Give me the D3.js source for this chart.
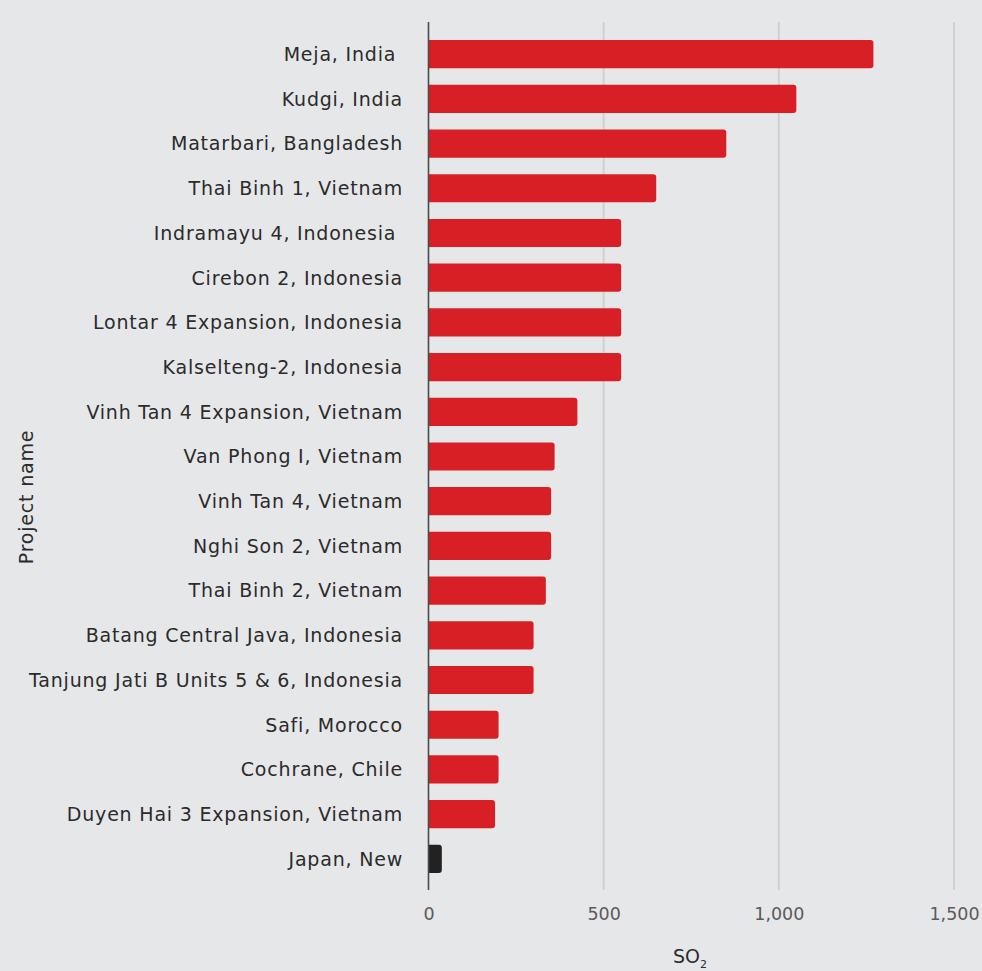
<!DOCTYPE html>
<html><head><meta charset="utf-8">
<script src="https://cdn.jsdelivr.net/npm/d3@7"></script>
<style>
html,body{margin:0;padding:0;background:#e6e7e9;}
svg{display:block;font-family:"DejaVu Sans","Noto Sans",sans-serif;}
</style></head>
<body>
<script>
const projects = [
  "Meja, India ", "Kudgi, India", "Matarbari, Bangladesh", "Thai Binh 1, Vietnam",
  "Indramayu 4, Indonesia ", "Cirebon 2, Indonesia", "Lontar 4 Expansion, Indonesia",
  "Kalselteng-2, Indonesia", "Vinh Tan 4 Expansion, Vietnam", "Van Phong I, Vietnam",
  "Vinh Tan 4, Vietnam", "Nghi Son 2, Vietnam", "Thai Binh 2, Vietnam",
  "Batang Central Java, Indonesia", "Tanjung Jati B Units 5 & 6, Indonesia",
  "Safi, Morocco", "Cochrane, Chile", "Duyen Hai 3 Expansion, Vietnam", "Japan, New"
];
const so2 = [1270, 1050, 850, 650, 550, 550, 550, 550, 425, 360, 350, 350, 335, 300, 300, 200, 200, 190, 38];
const highlight = ["Japan, New"];
const xTicks = [0, 500, 1000, 1500];

const W = 982, H = 971;
const svg = d3.select("body").append("svg").attr("width", W).attr("height", H);
svg.append("rect").attr("width", W).attr("height", H).attr("fill", "#e6e7e9");

const x = d3.scaleLinear().domain([0, 1500]).range([428.5, 954]);
const y = d3.scaleBand().domain(projects).range([24, 889]).paddingInner(0.37).paddingOuter(0.36);

// gridlines
svg.append("g").selectAll("line").data(xTicks.filter(d => d > 0)).join("line")
  .attr("x1", d => x(d)).attr("x2", d => x(d))
  .attr("y1", 22).attr("y2", 890)
  .attr("stroke", "#cfd0d2").attr("stroke-width", 2);

// bars with rounded right corners
function barPath(x0, x1, y0, h, r) {
  r = Math.min(r, (x1 - x0) / 2, h / 2);
  return `M${x0},${y0}H${x1 - r}Q${x1},${y0} ${x1},${y0 + r}V${y0 + h - r}Q${x1},${y0 + h} ${x1 - r},${y0 + h}H${x0}Z`;
}
svg.append("g").selectAll("path").data(projects).join("path")
  .attr("d", (d, i) => barPath(x(0), x(so2[i]), y(d), y.bandwidth(), 3))
  .attr("fill", d => highlight.includes(d) ? "#222222" : "#d91f26");

// y axis line
svg.append("line").attr("x1", x(0)).attr("x2", x(0)).attr("y1", 22).attr("y2", 890)
  .attr("stroke", "#4a4a4a").attr("stroke-width", 1.6);

// category labels
svg.append("g").selectAll("text").data(projects).join("text")
  .attr("x", 403)
  .attr("y", d => y(d) + y.bandwidth() / 2)
  .attr("dy", "0.36em")
  .attr("text-anchor", "end")
  .attr("font-size", 19)
  .attr("letter-spacing", 0.8)
  .attr("fill", "#2b2b2b")
  .style("white-space", "pre")
  .text(d => d);

// x axis ticks
const xa = svg.append("g").attr("transform", "translate(0,890)")
  .call(d3.axisBottom(x).tickValues(xTicks).tickFormat(d3.format(",")).tickSize(0).tickPadding(18));
xa.select(".domain").remove();
xa.selectAll("text").attr("font-size", 17.5).attr("fill", "#5a5a5a").attr("font-family", "'DejaVu Sans','Noto Sans',sans-serif");

// axis titles
const t = svg.append("text").attr("x", 690).attr("y", 963).attr("text-anchor", "middle")
  .attr("font-size", 19).attr("fill", "#2b2b2b");
t.append("tspan").text("SO");
t.append("tspan").attr("font-size", 11).attr("dy", 5).text("2");

svg.append("text").attr("transform", "translate(33,497) rotate(-90)")
  .attr("text-anchor", "middle").attr("font-size", 19).attr("letter-spacing", 0.8).attr("fill", "#2b2b2b")
  .text("Project name");
</script>
</body></html>
